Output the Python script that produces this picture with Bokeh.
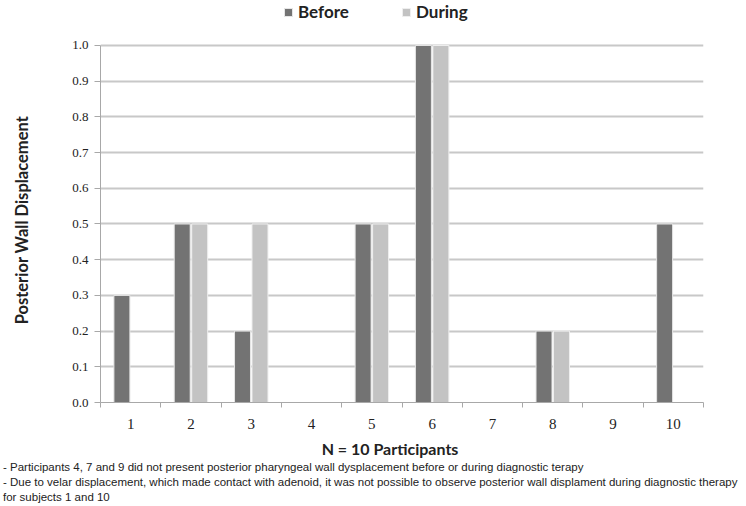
import numpy as np
from bokeh.plotting import figure
from bokeh.layouts import column
from bokeh.models import (ColumnDataSource, Range1d, FixedTicker, Legend, LegendItem, Div)
from bokeh.embed import file_html
from bokeh.resources import INLINE

categories = ["1", "2", "3", "4", "5", "6", "7", "8", "9", "10"]
before = [0.3, 0.5, 0.2, 0.0, 0.5, 1.0, 0.0, 0.2, 0.0, 0.5]
during = [0.0, 0.5, 0.5, 0.0, 0.5, 1.0, 0.0, 0.2, 0.0, 0.0]
y_ticks = [0.0, 0.1, 0.2, 0.3, 0.4, 0.5, 0.6, 0.7, 0.8, 0.9, 1.0]
series_names = ["Before", "During"]
notes = [
    "- Participants 4, 7 and 9 did not present posterior pharyngeal wall dysplacement before or during diagnostic terapy",
    "- Due to velar displacement, which made contact with adenoid, it was not possible to observe posterior wall displament during diagnostic therapy",
    "for subjects 1 and 10",
]
x_title = "N = 10 Participants"
y_title = "Posterior Wall Displacement"

pos = np.arange(1, len(categories) + 1)
b = np.array(before)
d = np.array(during)
src_b = ColumnDataSource(dict(x=pos[b > 0] - 0.145, top=b[b > 0]))
src_d = ColumnDataSource(dict(x=pos[d > 0] + 0.145, top=d[d > 0]))

# main chart: frame reaches the top of the canvas so the legend sits inside it
p = figure(width=746, height=460, output_backend="svg", toolbar_location=None,
           x_range=Range1d(0.5, len(categories) + 0.5), y_range=Range1d(0, 1.126),
           min_border_left=100, min_border_right=43, min_border_top=0, min_border_bottom=58)
p.outline_line_color = None
p.background_fill_color = "white"

rb = p.vbar(x="x", top="top", width=0.265, source=src_b, fill_color="#737373",
            line_color="#e6e6e6", line_width=1)
rd = p.vbar(x="x", top="top", width=0.265, source=src_d, fill_color="#c3c3c3",
            line_color="#eeeeee", line_width=1)

# x axis
p.xaxis.ticker = FixedTicker(ticks=list(pos), minor_ticks=[i + 0.5 for i in range(len(categories) + 1)])
p.xaxis.major_label_overrides = {int(i): c for i, c in zip(pos, categories)}
p.xaxis.major_tick_line_color = None
p.xaxis.major_tick_out = 0
p.xaxis.major_tick_in = 0
p.xaxis.minor_tick_line_color = "#a8a8a8"
p.xaxis.minor_tick_out = 5
p.xaxis.minor_tick_in = 0
p.xaxis.axis_line_color = "#a8a8a8"
p.xaxis.major_label_text_font = "Liberation Serif"
p.xaxis.major_label_text_font_size = "15px"
p.xaxis.major_label_text_color = "#222222"
p.xaxis.major_label_standoff = 11
# trailing em spaces nudge the centred title to where the reference has it
p.xaxis.axis_label = x_title + "\u2003\u2003"
p.xaxis.axis_label_text_font = "Lato"
p.xaxis.axis_label_text_font_style = "bold"
p.xaxis.axis_label_text_font_size = "16px"
p.xaxis.axis_label_text_color = "#222222"
p.xaxis.axis_label_standoff = 7
p.xgrid.grid_line_color = None

# y axis
p.yaxis.ticker = FixedTicker(ticks=y_ticks)
p.yaxis.bounds = (y_ticks[0], y_ticks[-1])
p.yaxis.major_label_overrides = {t: f"{t:.1f}" for t in y_ticks}
p.yaxis.major_tick_line_color = "#a8a8a8"
p.yaxis.major_tick_out = 6
p.yaxis.major_tick_in = 0
p.yaxis.minor_tick_line_color = None
p.yaxis.axis_line_color = "#a8a8a8"
p.yaxis.major_label_text_font = "Liberation Serif"
p.yaxis.major_label_text_font_size = "13px"
p.yaxis.major_label_text_color = "#222222"
p.yaxis.major_label_standoff = 6
p.yaxis.axis_label = y_title + "\u2003\u2003\u2003"
p.yaxis.axis_label_text_font = "Lato"
p.yaxis.axis_label_text_font_style = "bold"
p.yaxis.axis_label_text_font_size = "16.5px"
p.yaxis.axis_label_text_color = "#222222"
p.yaxis.axis_label_standoff = 37
p.ygrid.ticker = FixedTicker(ticks=y_ticks)
p.ygrid.grid_line_color = "#c8c8c8"
p.ygrid.grid_line_width = 2

legend = Legend(items=[LegendItem(label=series_names[0], renderers=[rb]),
                       LegendItem(label=series_names[1], renderers=[rd])],
                location=(183, 380), orientation="horizontal",
                glyph_width=10, glyph_height=10, label_standoff=5, spacing=0,
                label_width=103,
                padding=0, margin=0, border_line_color=None, background_fill_alpha=0,
                label_text_font="Lato", label_text_font_style="bold",
                label_text_font_size="17px", label_text_color="#222222")
p.add_layout(legend, "center")

# footnotes under the chart
notes_html = ('<div style="font-family: \'Liberation Sans\', Arial, sans-serif; font-size: 11.5px; '
              'line-height: 15px; color: #222222; white-space: nowrap; margin: 0 0 0 3px; padding: 0;">'
              + "<br>".join(notes) + "</div>")
n = Div(text=notes_html, width=746, height=46, margin=(0, 0, 0, 0))

page = column(p, n, spacing=0)
open("out.html", "w").write(file_html(page, INLINE))
